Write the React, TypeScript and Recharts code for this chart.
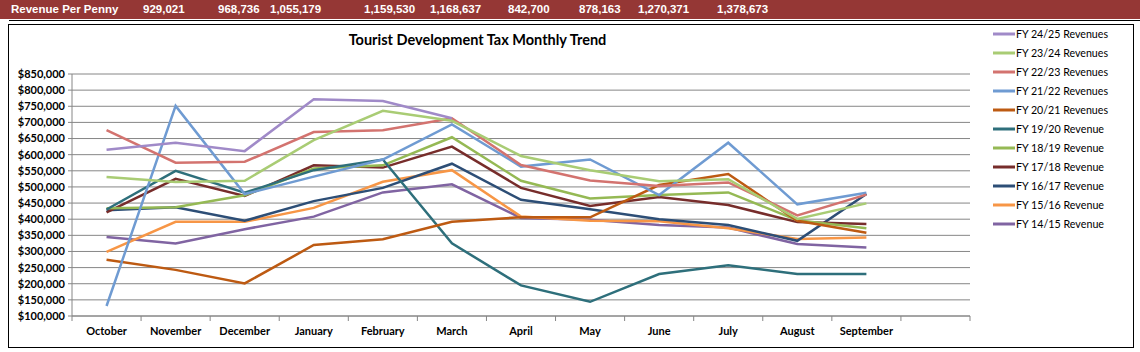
import React from "react"
import { LineChart, Line, XAxis, YAxis, CartesianGrid } from "recharts"

const months = [
  "October", "November", "December", "January", "February", "March",
  "April", "May", "June", "July", "August", "September", "",
]

const seriesNames = [
  "FY 24/25 Revenues",
  "FY 23/24 Revenues",
  "FY 22/23 Revenues",
  "FY 21/22 Revenues",
  "FY 20/21 Revenues",
  "FY 19/20 Revenue",
  "FY 18/19 Revenue",
  "FY 17/18 Revenue",
  "FY 16/17 Revenue",
  "FY 15/16 Revenue",
  "FY 14/15 Revenue",
]

const fy2425 = [615000, 637000, 611000, 772000, 766000, 713000]
const fy2324 = [531000, 515000, 519000, 645000, 736000, 705000, 596000, 552000, 518000, 524000, 401000, 449000]
const fy2223 = [676000, 575000, 578000, 670000, 676000, 713000, 568000, 520000, 503000, 514000, 412000, 476000]
const fy2122 = [131000, 751000, 478000, 532000, 585000, 694000, 563000, 585000, 475000, 637000, 446000, 482000]
const fy2021 = [274000, 243000, 201000, 320000, 338000, 392000, 406000, 406000, 506000, 540000, 395000, 358000]
const fy1920 = [430000, 550000, 482000, 552000, 585000, 325000, 195000, 144000, 230000, 257000, 230000, 230000]
const fy1819 = [434000, 437000, 474000, 557000, 567000, 654000, 519000, 464000, 475000, 483000, 397000, 372000]
const fy1718 = [421000, 525000, 472000, 567000, 560000, 625000, 497000, 441000, 469000, 444000, 391000, 385000]
const fy1617 = [428000, 437000, 395000, 456000, 497000, 572000, 460000, 431000, 400000, 382000, 333000, 478000]
const fy1516 = [299000, 392000, 392000, 435000, 516000, 552000, 408000, 395000, 394000, 372000, 339000, 343000]
const fy1415 = [345000, 325000, 369000, 408000, 483000, 508000, 404000, 398000, 382000, 374000, 323000, 312000]

const seriesValues = [fy2425, fy2324, fy2223, fy2122, fy2021, fy1920, fy1819, fy1718, fy1617, fy1516, fy1415]

const colors = [
  "#A08AC8", "#A9CC74", "#D3736F", "#6F9BD2", "#BD5A12", "#2E6F7B",
  "#95B954", "#772D2B", "#2D4E76", "#F79646", "#8064A2",
]

const yTicks = [
  100000, 150000, 200000, 250000, 300000, 350000, 400000, 450000,
  500000, 550000, 600000, 650000, 700000, 750000, 800000, 850000,
]

const pennyLabel = "Revenue Per Penny"
const pennyValues = [929021, 968736, 1055179, 1159530, 1168637, 842700, 878163, 1270371, 1378673]
const pennyLeft = [143, 218, 270, 364, 430, 508, 579, 638, 717]

const data = months.map((m, i) => {
  const row: Record<string, any> = { month: m }
  seriesNames.forEach((s, k) => {
    row[s] = seriesValues[k][i] ?? null
  })
  return row
})

const W = 1140
const H = 352
const PLOT_LEFT = 72
const PLOT_RIGHT = 970
const PLOT_TOP = 74
const PLOT_BOTTOM = 316
const BAND = (PLOT_RIGHT - PLOT_LEFT) / months.length
const FONT = "Lato, 'Open Sans', sans-serif"
const BAR_FONT: React.CSSProperties = {
  position: "absolute",
  top: 3,
  color: "#fff",
  fontWeight: "bold",
  fontSize: 11.5,
  lineHeight: "13px",
  fontFamily: "'Liberation Sans', Arial, sans-serif",
  whiteSpace: "nowrap",
}

function MonthTick(props: any) {
  const { x, y, payload, index } = props
  const last = index === months.length - 1
  return (
    <g>
      <line x1={x - BAND / 2} x2={x - BAND / 2} y1={y - 5} y2={y} stroke="#868686" />
      {last && <line x1={x + BAND / 2} x2={x + BAND / 2} y1={y - 5} y2={y} stroke="#868686" />}
      <text x={x} y={y + 14} textAnchor="middle" fontSize={11} fontWeight="bold" fill="#000" fontFamily={FONT}>
        {payload.value}
      </text>
    </g>
  )
}

export default function App() {
  return (
    <div style={{ position: "absolute", left: 0, top: 0, width: W, height: H, background: "#fff", overflow: "hidden" }}>
      <div style={{ position: "absolute", left: 0, top: 0, width: W, height: 19, background: "#953735" }}>
        <span style={{ ...BAR_FONT, left: 11 }}>{pennyLabel}</span>
        {pennyValues.map((v, i) => (
          <span key={i} style={{ ...BAR_FONT, left: pennyLeft[i] }}>
            {v.toLocaleString("en-US")}
          </span>
        ))}
      </div>
      <div style={{ position: "absolute", left: 9, top: 20, width: W - 9, height: 1, background: "#000" }} />
      <div style={{ position: "absolute", left: 8, top: 24, width: 1124, height: 322, border: "1px solid #000" }} />
      <div style={{ position: "absolute", left: 0, width: 955, top: 31, textAlign: "center", fontFamily: FONT, fontWeight: "bold", fontSize: 14.5, color: "#000" }}>
        Tourist Development Tax Monthly Trend
      </div>
      <div style={{ position: "absolute", left: 0, top: 0 }}>
        <LineChart
          width={W}
          height={H}
          data={data}
          margin={{ top: PLOT_TOP, right: W - PLOT_RIGHT, bottom: H - PLOT_BOTTOM - 30, left: 0 }}
        >
          <CartesianGrid horizontal vertical={false} stroke="#868686" strokeWidth={1} />
          <XAxis
            dataKey="month"
            scale="band"
            interval={0}
            height={30}
            tickSize={5}
            tickMargin={0}
            tickLine={false}
            axisLine={{ stroke: "#868686" }}
            tick={<MonthTick />}
          />
          <YAxis
            width={PLOT_LEFT}
            domain={[100000, 850000]}
            ticks={yTicks}
            interval={0}
            tickSize={4}
            tickMargin={3}
            axisLine={{ stroke: "#868686" }}
            tickLine={{ stroke: "#868686" }}
            tick={{ fontSize: 11, fontWeight: "bold", fill: "#000", fontFamily: FONT }}
            tickFormatter={(v) => `$${Number(v).toLocaleString("en-US")}`}
          />
          {seriesNames
            .map((s, k) => ({ s, k }))
            .reverse()
            .map(({ s, k }) => (
              <Line
                key={s}
                type="linear"
                dataKey={s}
                stroke={colors[k]}
                strokeWidth={2.5}
                dot={false}
                activeDot={false}
                isAnimationActive={false}
              />
            ))}
        </LineChart>
      </div>
      <svg style={{ position: "absolute", left: 990, top: 24 }} width={145} height={215}>
        {seriesNames.map((s, k) => {
          const cy = 10 + k * 19
          return (
            <g key={s}>
              <line x1={3} x2={25} y1={cy} y2={cy} stroke={colors[k]} strokeWidth={3} />
              <text
                x={26}
                y={cy + 4}
                fontSize={11}
                fontFamily={FONT}
                fill="#000"
                textLength={s.endsWith("s") ? 92 : 88}
                lengthAdjust="spacingAndGlyphs"
              >
                {s}
              </text>
            </g>
          )
        })}
      </svg>
    </div>
  )
}
